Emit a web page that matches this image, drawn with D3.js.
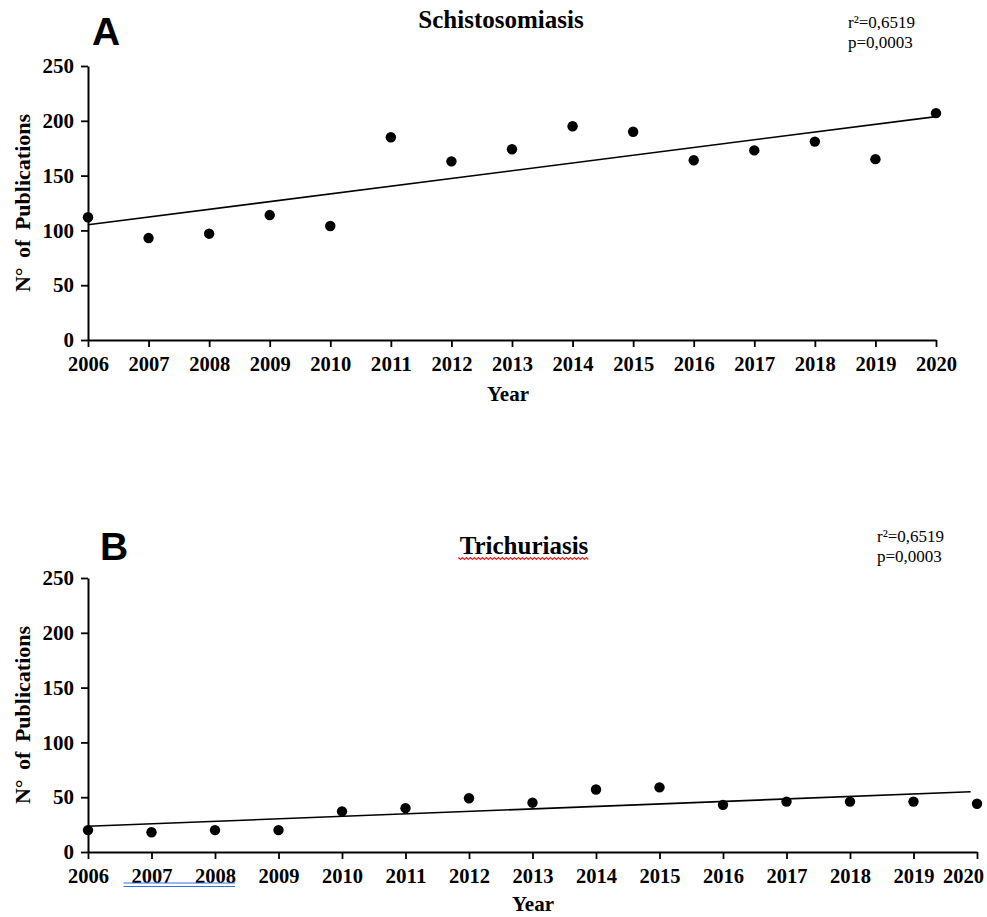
<!DOCTYPE html>
<html><head><meta charset="utf-8">
<script src="https://cdn.jsdelivr.net/npm/d3@7"></script>
<style>body{margin:0;background:#fff} svg{display:block}</style>
</head><body>
<svg id="chart" width="987" height="917"></svg>
<script>
// ---- data ----
const years = [2006, 2007, 2008, 2009, 2010, 2011, 2012, 2013, 2014, 2015, 2016, 2017, 2018, 2019, 2020];
const schistosomiasisCounts = [112, 93, 97, 114, 104, 185, 163, 174, 195, 190, 164, 173, 181, 165, 207];
const trichuriasisCounts = [20, 18, 20, 20, 37, 40, 49, 45, 57, 59, 43, 46, 46, 46, 44];
const yTickValues = [0, 50, 100, 150, 200, 250];
const panelLetters = ["A", "B"];
const panelTitles = ["Schistosomiasis", "Trichuriasis"];
const statLines = ["r\u00b2=0,6519", "p=0,0003"];
const xAxisTitle = "Year";
const yAxisTitle = "N\u00b0 of Publications";

// ---- layout ----
const panels = [
  { counts: schistosomiasisCounts, letter: panelLetters[0], title: panelTitles[0],
    x0: 88, x1: 936, yTop: 66, yBottom: 340,
    letterPos: [92, 45], titlePos: [501, 28], statX: 848, statY: [28, 48],
    yLabelX: 30, xLabelPos: [508, 401], trendEnd: 2020, squiggle: false, blueUnderline: false, lastShift: 0 },
  { counts: trichuriasisCounts, letter: panelLetters[1], title: panelTitles[1],
    x0: 88, x1: 977, yTop: 578, yBottom: 852,
    letterPos: [100, 560], titlePos: [524, 554], statX: 877, statY: [542, 562],
    yLabelX: 30, xLabelPos: [533, 911], trendEnd: 2019.9, squiggle: true, blueUnderline: true, lastShift: -14 }
];

const svg = d3.select("#chart");
svg.append("rect").attr("width", 987).attr("height", 917).attr("fill", "#fff");

const serif = "'Liberation Serif', 'Times New Roman', serif";
const sans = "'Liberation Sans', Arial, sans-serif";

function regression(xs, ys) {
  const n = xs.length;
  const mx = d3.mean(xs), my = d3.mean(ys);
  let sxy = 0, sxx = 0;
  for (let i = 0; i < n; i++) { sxy += (xs[i] - mx) * (ys[i] - my); sxx += (xs[i] - mx) ** 2; }
  const slope = sxy / sxx;
  return x => my + slope * (x - mx);
}

panels.forEach(p => {
  const x = d3.scaleLinear().domain([years[0], years[years.length - 1]]).range([p.x0, p.x1]);
  const y = d3.scaleLinear().domain([0, 250]).range([p.yBottom, p.yTop]);
  const g = svg.append("g");

  // axes
  const xAxis = g.append("g").attr("transform", `translate(0,${p.yBottom})`)
    .call(d3.axisBottom(x).tickValues(years).tickFormat(d3.format("d")).tickSize(7).tickSizeOuter(0).tickPadding(9));
  const yAxis = g.append("g").attr("transform", `translate(${p.x0},0)`)
    .call(d3.axisLeft(y).tickValues(yTickValues).tickSize(7).tickSizeOuter(0).tickPadding(7));
  [xAxis, yAxis].forEach(a => {
    a.attr("font-family", serif).attr("font-size", 21).attr("font-weight", "bold");
    a.selectAll("path.domain").attr("stroke", "#000").attr("stroke-width", 2);
    a.selectAll(".tick line").attr("stroke", "#000").attr("stroke-width", 1.8);
    a.selectAll(".tick text").attr("fill", "#000");
  });
  xAxis.selectAll(".tick text")
    .attr("textLength", 41).attr("lengthAdjust", "spacingAndGlyphs")
    .attr("dx", (d, i) => i === years.length - 1 ? p.lastShift : 0);

  // trend line
  const f = regression(years, p.counts);
  g.append("line")
    .attr("x1", x(years[0])).attr("y1", y(f(years[0])))
    .attr("x2", x(p.trendEnd)).attr("y2", y(f(p.trendEnd)))
    .attr("stroke", "#000").attr("stroke-width", 1.6);

  // points
  g.selectAll("circle.pt").data(years.map((yr, i) => ({ yr, v: p.counts[i] })))
    .join("circle").attr("class", "pt")
    .attr("cx", d => x(d.yr)).attr("cy", d => y(d.v)).attr("r", 5.2).attr("fill", "#000");

  // panel letter
  g.append("text").attr("x", p.letterPos[0]).attr("y", p.letterPos[1])
    .attr("font-family", sans).attr("font-weight", "bold").attr("font-size", 39).text(p.letter);

  // title
  g.append("text").attr("x", p.titlePos[0]).attr("y", p.titlePos[1]).attr("text-anchor", "middle")
    .attr("font-family", serif).attr("font-weight", "bold").attr("font-size", 25).text(p.title);

  if (p.squiggle) {
    const w = 25 * 5.25, sx = p.titlePos[0] - w / 2, sy = p.titlePos[1] + 3.5;
    const path = d3.path();
    path.moveTo(sx, sy);
    let k = 0;
    for (let xx = sx + 2; xx <= sx + w; xx += 2) { k++; path.lineTo(xx, sy + (k % 2 ? 2 : 0)); }
    g.append("path").attr("d", path.toString()).attr("fill", "none").attr("stroke", "#e02020").attr("stroke-width", 1.1);
  }

  // stats
  statLines.forEach((s, i) => {
    g.append("text").attr("x", p.statX).attr("y", p.statY[i])
      .attr("font-family", serif).attr("font-size", 17).text(s);
  });

  // axis titles
  g.append("text").attr("transform", `translate(${p.yLabelX},${(p.yTop + p.yBottom) / 2}) rotate(-90)`)
    .attr("text-anchor", "middle").attr("font-family", serif).attr("font-weight", "bold")
    .attr("font-size", 22).attr("word-spacing", 4).text(yAxisTitle);
  g.append("text").attr("x", p.xLabelPos[0]).attr("y", p.xLabelPos[1]).attr("text-anchor", "middle")
    .attr("font-family", serif).attr("font-weight", "bold").attr("font-size", 21).text(xAxisTitle);

  if (p.blueUnderline) {
    const ux0 = x(years[1]) - 28, ux1 = x(years[2]) + 20, uy = p.yBottom + 31;
    [0, 3.5].forEach(dy => g.append("line").attr("x1", ux0).attr("x2", ux1)
      .attr("y1", uy + dy).attr("y2", uy + dy).attr("stroke", "#3a6fe0").attr("stroke-width", 1.2));
  }
});
</script>
</body></html>
